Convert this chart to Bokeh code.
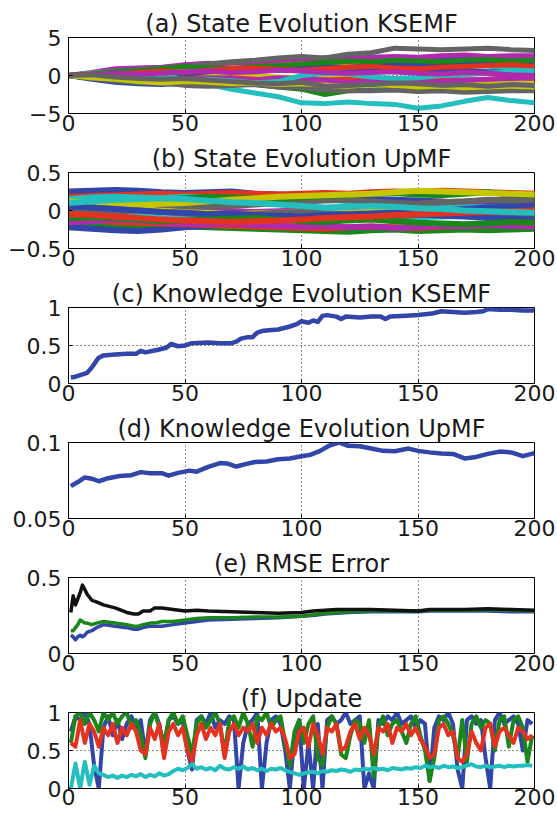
from bokeh.plotting import figure
from bokeh.layouts import column
from bokeh.models import FixedTicker, Range1d
from bokeh.embed import file_html
from bokeh.resources import INLINE

# ---------------- data ----------------
x_ticks = [0, 50, 100, 150, 200]
x_tick_labels = ["0", "50", "100", "150", "200"]

# (a) State Evolution KSEMF  (sampled every 10 steps)
t_state = [0, 10, 20, 30, 40, 50, 60, 70, 80, 90, 100, 110, 120, 130, 140, 150, 160, 170, 180, 190, 200]
kse_blue = [
    [0, 0.2, 0.4, 0.7, 0.8, 1.4, 1.5, 1.4, 1.6, 1.8, 1.9, 2.0, 2.2, 2.1, 2.3, 2.2, 2.4, 2.3, 2.4, 2.5, 2.5],
    [0, -0.5, -0.9, -1.1, -1.2, -1.0, -0.9, -0.7, -0.8, -0.6, -0.5, 0.7, 0.6, 0.8, 0.5, 0.4, 0.6, 0.7, 0.5, 0.6, 0.5],
    [0, 0.1, 0.0, 0.3, 0.4, 0.2, 0.5, 0.7, 0.9, 1.1, 1.0, 1.2, 1.1, 1.3, 1.5, 1.4, 1.3, 1.6, 1.5, 1.4, 1.5],
]
kse_green = [
    [0, -0.4, -0.8, -0.9, -0.6, 0.8, 0.9, 1.2, 1.0, 1.1, 1.5, 2.3, 2.0, 1.8, 1.7, 1.6, 1.5, 1.4, 1.3, 1.5, 1.4],
    [0, -0.3, -0.6, -1.0, -0.8, -0.3, -0.5, -1.0, -1.2, -1.5, -1.8, -2.5, -2.0, -1.9, -1.8, -1.9, -1.6, -1.8, -2.0, -1.7, -1.8],
    [0, 0.2, 0.5, 0.6, 0.9, 1.2, 1.0, 0.9, 1.2, 1.3, 1.5, 1.7, 1.9, 1.8, 2.0, 1.9, 1.8, 2.0, 2.1, 1.9, 2.0],
]
kse_red = [
    [0, 0.3, 0.6, 0.8, 1.0, 1.1, 1.2, 1.4, 1.5, 1.6, 1.7, 1.8, 1.6, 1.5, 1.7, 1.8, 1.6, 1.8, 2.0, 1.9, 1.8],
    [0, -0.2, -0.5, -0.6, -0.5, -0.2, -0.4, -0.3, -0.5, -0.7, -0.9, -0.6, -0.5, -0.8, -0.6, -0.5, -0.4, -0.6, -0.5, -0.3, -0.4],
    [0, 0.2, 0.1, 0.4, 0.6, 0.4, 0.7, 0.9, 1.0, 0.8, 0.7, 0.9, 1.1, 1.2, 1.0, 0.9, 1.1, 1.2, 1.3, 1.4, 1.2],
]
kse_cyan = [
    [0, -0.2, -0.4, -0.5, -0.6, -0.8, -1.2, -1.8, -2.3, -2.8, -3.6, -3.7, -3.5, -3.7, -3.8, -4.3, -4.0, -3.4, -2.9, -3.3, -3.6],
    [0, 0.3, 0.5, 0.4, 0.7, 0.2, 0.6, 0.4, 0.8, 1.0, 1.2, 0.9, 1.1, 1.3, 1.0, 1.2, 1.5, 1.4, 1.2, 1.0, 1.1],
    [0, -0.2, -0.3, 0.0, 0.1, -0.6, -0.5, -0.7, -1.0, -0.8, 0.0, 0.3, 0.2, -0.2, -0.4, -0.3, 0.0, 0.1, 0.3, 0.5, 0.6],
]
kse_magenta = [
    [0, 0.4, 0.9, 1.0, 1.1, 1.4, 1.6, 1.5, 1.8, 2.0, 2.1, 2.3, 2.2, 2.4, 2.5, 2.4, 2.6, 2.7, 2.5, 2.6, 2.6],
    [0, -0.3, -0.4, -0.2, -0.3, -0.5, -0.3, -0.4, -0.6, -0.3, -0.4, -0.6, -0.9, -0.8, -0.7, -0.9, -0.8, -0.6, -0.5, -0.4, -0.3],
    [0, 0.1, 0.3, 0.2, 0.3, 0.5, 0.6, 0.4, 0.5, 0.7, 0.6, 0.4, 0.3, 0.4, 0.5, 0.3, 0.2, 0.4, 0.3, 0.1, 0.0],
]
kse_yellow = [
    [0, 0.2, 0.3, 0.5, 0.4, 0.1, 0.0, -0.1, 0.0, -0.2, -0.3, -0.2, -0.3, -0.5, -0.4, -0.6, -0.9, -1.0, -1.1, -1.0, -1.1],
    [0, -0.1, 0.2, 0.3, 0.5, 0.6, 0.8, 1.0, 1.1, 1.3, 1.5, 1.4, 1.2, 1.4, 1.3, 1.6, 1.5, 1.4, 1.6, 1.7, 1.6],
    [0, -0.3, -0.5, -0.8, -1.0, -0.8, -0.9, -1.1, -1.0, -1.2, -1.1, -1.3, -1.4, -1.2, -1.3, -1.5, -1.4, -1.6, -1.5, -1.4, -1.5],
]
kse_gray = [
    [0, 0.3, 0.6, 0.8, 1.0, 1.2, 1.5, 1.8, 2.0, 2.3, 2.5, 2.3, 2.8, 3.0, 3.6, 3.5, 3.4, 3.5, 3.6, 3.4, 3.3],
    [0, -0.4, -0.7, -0.9, -1.0, -1.3, -1.4, -1.3, -1.2, -1.5, -1.6, -1.9, -2.0, -2.0, -1.9, -2.1, -2.0, -2.2, -2.1, -2.0, -2.0],
    [0, 0.1, -0.2, -0.4, -0.5, -0.4, -0.6, -0.8, -1.0, -1.1, -0.9, -1.4, -1.3, -1.2, -1.0, -1.1, -1.3, -1.2, -1.4, -1.2, -1.3],
]

# (b) State Evolution UpMF (sampled every 10 steps)
up_blue = [
    [0.25, 0.26, 0.27, 0.26, 0.24, 0.23, 0.24, 0.25, 0.22, 0.21, 0.20, 0.18, 0.17, 0.15, 0.14, 0.13, 0.12, 0.10, 0.09, 0.08, 0.07],
    [-0.22, -0.24, -0.26, -0.27, -0.25, -0.22, -0.20, -0.18, -0.15, -0.13, -0.10, -0.08, -0.06, -0.05, -0.04, -0.02, 0.0, 0.02, 0.04, 0.05, 0.06],
    [0.05, 0.04, 0.02, 0.0, -0.02, -0.03, -0.05, -0.04, -0.06, -0.07, -0.08, -0.06, -0.05, -0.04, -0.03, -0.05, -0.07, -0.08, -0.10, -0.11, -0.12],
]
up_green = [
    [-0.18, -0.19, -0.20, -0.19, -0.20, -0.21, -0.22, -0.23, -0.24, -0.25, -0.26, -0.27, -0.28, -0.26, -0.25, -0.27, -0.26, -0.25, -0.26, -0.25, -0.24],
    [0.08, 0.09, 0.10, 0.12, 0.14, 0.16, 0.18, 0.17, 0.16, 0.15, 0.17, 0.19, 0.20, 0.22, 0.23, 0.21, 0.20, 0.22, 0.24, 0.21, 0.20],
    [-0.10, -0.09, -0.10, -0.12, -0.14, -0.13, -0.12, -0.11, -0.10, -0.12, -0.14, -0.15, -0.13, -0.12, -0.14, -0.16, -0.17, -0.18, -0.17, -0.15, -0.16],
]
up_red = [
    [0.18, 0.19, 0.20, 0.21, 0.22, 0.21, 0.22, 0.23, 0.22, 0.21, 0.22, 0.23, 0.22, 0.24, 0.25, 0.24, 0.26, 0.25, 0.24, 0.23, 0.22],
    [-0.12, -0.13, -0.15, -0.16, -0.17, -0.18, -0.19, -0.20, -0.21, -0.22, -0.23, -0.24, -0.22, -0.21, -0.22, -0.23, -0.21, -0.20, -0.19, -0.18, -0.17],
    [-0.05, -0.06, -0.08, -0.10, -0.12, -0.13, -0.14, -0.15, -0.14, -0.13, -0.12, -0.10, -0.09, -0.08, -0.06, -0.05, -0.04, -0.03, -0.02, -0.01, 0.0],
]
up_cyan = [
    [0.15, 0.17, 0.18, 0.17, 0.16, 0.18, 0.17, 0.15, 0.13, 0.12, 0.14, 0.15, 0.12, 0.10, 0.08, 0.07, 0.06, 0.05, 0.04, 0.05, 0.06],
    [-0.02, -0.04, -0.06, -0.08, -0.10, -0.11, -0.10, -0.08, -0.07, -0.05, -0.04, -0.03, -0.05, -0.08, -0.10, -0.09, -0.08, -0.07, -0.08, -0.09, -0.08],
    [0.10, 0.12, 0.14, 0.15, 0.16, 0.15, 0.13, 0.11, 0.10, 0.08, 0.06, 0.04, 0.05, 0.06, 0.05, 0.03, 0.02, 0.0, -0.01, -0.02, -0.03],
]
up_magenta = [
    [0.03, 0.02, 0.04, 0.05, 0.03, 0.02, 0.01, -0.01, -0.02, -0.01, 0.0, 0.02, 0.04, 0.06, 0.08, 0.09, 0.11, 0.12, 0.13, 0.15, 0.16],
    [-0.15, -0.14, -0.12, -0.13, -0.15, -0.17, -0.18, -0.17, -0.19, -0.20, -0.21, -0.20, -0.22, -0.21, -0.23, -0.22, -0.20, -0.21, -0.19, -0.20, -0.21],
]
up_yellow = [
    [0.0, -0.01, 0.01, 0.02, 0.0, -0.02, -0.03, -0.05, -0.04, -0.03, -0.02, -0.04, -0.03, -0.02, 0.0, 0.01, 0.0, -0.01, 0.0, 0.01, 0.0],
    [0.12, 0.11, 0.10, 0.08, 0.09, 0.10, 0.12, 0.14, 0.16, 0.18, 0.19, 0.20, 0.21, 0.22, 0.24, 0.26, 0.25, 0.24, 0.23, 0.22, 0.21],
]
up_gray = [
    [0.08, 0.07, 0.09, 0.10, 0.08, 0.06, 0.05, 0.06, 0.08, 0.10, 0.12, 0.13, 0.14, 0.12, 0.10, 0.09, 0.11, 0.12, 0.14, 0.13, 0.12],
    [-0.03, -0.02, -0.01, 0.0, -0.02, -0.04, -0.05, -0.06, -0.05, -0.03, -0.02, -0.04, -0.06, -0.07, -0.08, -0.06, -0.05, -0.06, -0.07, -0.08, -0.09],
]

# (c) Knowledge Evolution KSEMF
t_know_kse = [1, 3, 5, 7, 8, 10, 12, 13, 15, 20, 25, 29, 31, 33, 38, 42, 44, 45, 47, 50, 53, 60, 65, 70, 72, 74, 77, 79, 81, 83,
              86, 90, 95, 98, 100, 103, 105, 107, 109, 111, 115, 117, 119, 125, 130, 134, 136, 138, 145, 150, 153, 156, 160,
              165, 170, 175, 178, 180, 185, 190, 195, 200]
know_kse = [0.08, 0.09, 0.11, 0.13, 0.14, 0.21, 0.30, 0.34, 0.37, 0.38, 0.39, 0.39, 0.43, 0.41, 0.44, 0.47, 0.52, 0.51, 0.49, 0.50,
            0.53, 0.54, 0.53, 0.53, 0.55, 0.59, 0.61, 0.61, 0.67, 0.69, 0.70, 0.71, 0.75, 0.78, 0.82, 0.80, 0.83, 0.81, 0.89, 0.90,
            0.88, 0.85, 0.88, 0.87, 0.88, 0.88, 0.85, 0.88, 0.89, 0.90, 0.91, 0.92, 0.95, 0.94, 0.93, 0.94, 0.95, 0.98, 0.97, 0.97,
            0.96, 0.96]

# (d) Knowledge Evolution UpMF
t_know_up = [1, 4, 7, 10, 13, 17, 22, 27, 31, 35, 40, 43, 47, 52, 55, 60, 65, 68, 72, 76, 80, 85, 90, 95, 100, 104, 108, 112,
             116, 120, 125, 130, 135, 140, 146, 150, 155, 160, 165, 170, 175, 180, 185, 190, 195, 200]
know_up = [0.0713, 0.0740, 0.0770, 0.0762, 0.0745, 0.0765, 0.0780, 0.0785, 0.0805, 0.0797, 0.0798, 0.0782, 0.0800, 0.0815,
           0.0808, 0.0840, 0.0865, 0.0862, 0.0842, 0.0858, 0.0872, 0.0875, 0.0890, 0.0895, 0.0910, 0.0920, 0.0945, 0.0980,
           0.1000, 0.0978, 0.0975, 0.0960, 0.0945, 0.0942, 0.0960, 0.0945, 0.0935, 0.0928, 0.0925, 0.0895, 0.0905, 0.0925,
           0.0940, 0.0935, 0.0910, 0.0930]

# (e) RMSE Error
t_rmse = [1, 2, 3, 4, 5, 6, 7, 8, 10, 12, 15, 20, 25, 28, 30, 32, 35, 37, 40, 45, 50, 55, 60, 70, 80, 90, 100, 105, 110, 115,
          120, 130, 140, 150, 155, 160, 170, 180, 190, 200]
rmse_black = [0.27, 0.38, 0.32, 0.36, 0.40, 0.45, 0.42, 0.39, 0.35, 0.34, 0.32, 0.30, 0.27, 0.26, 0.26, 0.28, 0.28, 0.30, 0.30,
              0.29, 0.28, 0.285, 0.28, 0.275, 0.27, 0.265, 0.27, 0.28, 0.285, 0.29, 0.29, 0.29, 0.285, 0.28, 0.29, 0.29, 0.29,
              0.295, 0.29, 0.285]
rmse_green = [0.15, 0.15, 0.17, 0.19, 0.22, 0.21, 0.20, 0.20, 0.19, 0.20, 0.21, 0.20, 0.19, 0.18, 0.18, 0.19, 0.20, 0.20, 0.21,
              0.21, 0.22, 0.23, 0.235, 0.235, 0.24, 0.24, 0.245, 0.255, 0.265, 0.27, 0.275, 0.28, 0.28, 0.28, 0.285, 0.285,
              0.285, 0.29, 0.285, 0.28]
rmse_blue = [0.12, 0.11, 0.09, 0.11, 0.12, 0.11, 0.12, 0.14, 0.15, 0.17, 0.19, 0.18, 0.17, 0.16, 0.16, 0.17, 0.18, 0.18, 0.18,
             0.19, 0.20, 0.21, 0.22, 0.225, 0.23, 0.235, 0.245, 0.25, 0.26, 0.265, 0.27, 0.275, 0.275, 0.275, 0.28, 0.28, 0.28,
             0.28, 0.275, 0.275]

# (f) Update (every 2 steps, t = 1, 3, ..., 199)
t_update = list(range(1, 200, 2))
update_blue = [0.75, 0.95, 0.9, 1.0, 0.85, 0.3, 0.0, 0.8, 0.95, 0.7,
               0.9, 0.65, 0.85, 0.95, 0.8, 0.9, 0.45, 0.9, 1.0, 0.85,
               0.45, 0.9, 0.95, 0.85, 0.9, 0.5, 0.25, 0.9, 0.95, 0.85,
               1.0, 0.8, 0.9, 0.85, 0.95, 0.9, 0.0, 0.6, 0.85, 0.9,
               1.0, 0.0, 0.6, 0.9, 0.95, 0.85, 0.5, 0.0, 0.7, 0.9,
               0.0, 0.6, 0.0, 0.85, 0.0, 0.9, 0.95, 0.85, 0.9, 1.0,
               0.85, 0.9, 0.95, 0.0, 0.2, 0.0, 0.9, 0.85, 0.95, 0.9,
               1.0, 0.85, 0.9, 0.95, 0.8, 0.9, 0.85, 0.1, 0.8, 0.95,
               0.9, 1.0, 0.85, 0.25, 0.0, 0.9, 0.95, 0.85, 0.9, 0.4,
               0.0, 0.9, 1.0, 0.85, 0.9, 0.95, 0.85, 0.5, 0.9, 0.85]
update_green = [0.6, 0.95, 1.0, 0.85, 1.0, 0.9, 0.75, 1.0, 0.9, 1.0,
                0.85, 0.95, 1.0, 0.8, 0.9, 0.7, 0.4, 0.85, 1.0, 0.8,
                0.6, 0.9, 1.0, 0.85, 0.95, 0.7, 0.45, 0.85, 0.95, 0.8,
                0.9, 1.0, 0.85, 0.45, 0.9, 0.95, 0.8, 1.0, 0.85, 0.55,
                0.95, 0.9, 1.0, 0.8, 0.9, 0.95, 0.6, 0.3, 0.75, 0.9,
                0.6, 0.85, 0.95, 0.4, 0.3, 0.8, 0.95, 0.85, 0.45, 0.4,
                0.7, 0.9, 0.85, 0.6, 0.9, 0.15, 0.8, 0.95, 0.7, 0.85,
                0.9, 0.75, 0.6, 0.85, 0.95, 0.7, 0.5, 0.1, 0.4, 0.9,
                0.95, 0.85, 0.7, 0.4, 0.9, 0.35, 0.85, 0.95, 0.8, 0.9,
                0.85, 0.5, 0.9, 0.95, 0.55, 0.9, 0.95, 0.8, 0.35, 0.7]
update_red = [0.6, 0.55, 0.9, 0.6, 0.85, 0.75, 0.55, 0.8, 0.7, 0.85,
              0.6, 0.8, 0.7, 0.85, 0.75, 0.5, 0.45, 0.8, 0.65, 0.85,
              0.4, 0.75, 0.85, 0.7, 0.8, 0.5, 0.35, 0.7, 0.85, 0.65,
              0.8, 0.7, 0.85, 0.4, 0.75, 0.85, 0.7, 0.8, 0.75, 0.85,
              0.6, 0.8, 0.7, 0.85, 0.75, 0.8, 0.65, 0.4, 0.45, 0.75,
              0.8, 0.55, 0.85, 0.7, 0.45, 0.8, 0.75, 0.85, 0.5, 0.55,
              0.75, 0.85, 0.65, 0.8, 0.7, 0.45, 0.8, 0.75, 0.85, 0.6,
              0.8, 0.75, 0.85, 0.7, 0.8, 0.65, 0.55, 0.4, 0.45, 0.8,
              0.85, 0.7, 0.75, 0.4, 0.35, 0.45, 0.75, 0.6, 0.5, 0.8,
              0.85, 0.55, 0.75, 0.8, 0.7, 0.6, 0.8, 0.75, 0.65, 0.7]
update_cyan = [0.0, 0.33, 0.0, 0.35, 0.05, 0.3, 0.2, 0.18, 0.15, 0.17,
               0.14, 0.17, 0.15, 0.18, 0.16, 0.19, 0.15, 0.18, 0.16, 0.2,
               0.17, 0.19, 0.23, 0.26, 0.24, 0.27, 0.32, 0.26, 0.28, 0.25,
               0.27, 0.24, 0.3, 0.26, 0.25, 0.28, 0.26, 0.29, 0.25, 0.27,
               0.24, 0.26, 0.23, 0.26, 0.25, 0.27, 0.24, 0.22, 0.2, 0.18,
               0.2, 0.21, 0.22, 0.2, 0.23, 0.22, 0.24, 0.23, 0.25, 0.24,
               0.22, 0.25, 0.24, 0.26, 0.25, 0.27, 0.25, 0.26, 0.24, 0.27,
               0.26, 0.25, 0.27, 0.26, 0.28, 0.27, 0.3, 0.28, 0.29, 0.27,
               0.3, 0.28, 0.29, 0.27, 0.28, 0.3, 0.32, 0.29, 0.28, 0.3,
               0.28, 0.29, 0.3, 0.28, 0.3, 0.29, 0.3, 0.3, 0.31, 0.3]

# ---------------- style ----------------
BLUE = "#3245a8"
GREEN = "#1b871b"
RED = "#e3321f"
CYAN = "#23bfbf"
MAGENTA = "#b02aae"
YELLOW = "#c6c600"
GRAY = "#646464"
BLACK = "#111111"
FONT = "DejaVu Sans"


def panel(title, ylo, yhi, yticks, ylabels, height, top, bottom, xstandoff):
    p = figure(width=557, height=height, x_range=Range1d(0, 200), y_range=Range1d(ylo, yhi),
               output_backend="svg", toolbar_location=None, tools="",
               min_border_left=68, min_border_right=23, min_border_top=top, min_border_bottom=bottom)
    p.title.text = title
    p.title.align = "center"
    p.title.text_font = FONT
    p.title.text_font_size = "24px"
    p.title.text_font_style = "normal"
    p.title.text_color = "#1a1a1a"
    p.title.standoff = 0
    p.outline_line_color = "black"
    p.outline_line_width = 1
    p.outline_line_alpha = 1
    for ax, ticks, labels in ((p.xaxis, x_ticks, x_tick_labels), (p.yaxis, yticks, ylabels)):
        ax.ticker = FixedTicker(ticks=ticks)
        ax.major_label_overrides = {t: l for t, l in zip(ticks, labels)}
        ax.major_label_text_font = FONT
        ax.major_label_text_font_size = "22px"
        ax.major_label_text_color = "#1a1a1a"
        ax.major_tick_in = 4
        ax.major_tick_out = 0
        ax.minor_tick_in = 0
        ax.minor_tick_out = 0
        ax.axis_line_color = "black"
        ax.major_tick_line_color = "black"
    p.xaxis.major_label_standoff = xstandoff
    p.yaxis.major_label_standoff = 7
    for g in (p.xgrid, p.ygrid):
        g.grid_line_color = "#222222"
        g.grid_line_dash = "1 3"
        g.grid_line_width = 1
    return p


p_a = panel("(a) State Evolution KSEMF", -5, 5, [-5, 0, 5], ["\u22125", "0", "5"], 142, 37, 29, 1)
groups_a = [(kse_blue, BLUE), (kse_green, GREEN), (kse_red, RED), (kse_cyan, CYAN),
            (kse_magenta, MAGENTA), (kse_yellow, YELLOW), (kse_gray, GRAY)]
for k in range(3):
    for series, color in groups_a:
        if k < len(series):
            p_a.line(t_state, series[k], line_color=color, line_width=5, line_join="round", line_cap="round")

p_b = panel("(b) State Evolution UpMF", -0.5, 0.5, [-0.5, 0, 0.5], ["\u22120.5", "0", "0.5"], 135, 30, 29, 1)
groups_b = [(up_blue, BLUE), (up_green, GREEN), (up_red, RED), (up_cyan, CYAN),
            (up_magenta, MAGENTA), (up_yellow, YELLOW), (up_gray, GRAY)]
for k in range(3):
    for series, color in groups_b:
        if k < len(series):
            p_b.line(t_state, series[k], line_color=color, line_width=6, line_join="round", line_cap="round")

p_c = panel("(c) Knowledge Evolution KSEMF", 0, 1, [0, 0.5, 1], ["0", "0.5", "1"], 135, 30, 29, 1)
p_c.line(t_know_kse, know_kse, line_color=BLUE, line_width=4.5, line_join="round")

p_d = panel("(d) Knowledge Evolution UpMF", 0.05, 0.1, [0.05, 0.1], ["0.05", "0.1"], 135, 30, 29, 1)
p_d.line(t_know_up, know_up, line_color=BLUE, line_width=4.5, line_join="round")

p_e = panel("(e) RMSE Error", 0, 0.5, [0, 0.5], ["0", "0.5"], 135, 30, 29, 1)
p_e.line(t_rmse, rmse_blue, line_color=BLUE, line_width=3.5, line_join="round")
p_e.line(t_rmse, rmse_green, line_color=GREEN, line_width=3.5, line_join="round")
p_e.line(t_rmse, rmse_black, line_color=BLACK, line_width=3.5, line_join="round")

p_f = panel("(f) Update", 0, 1, [0, 0.5, 1], ["0", "0.5", "1"], 134, 30, 28, 0)
p_f.line(t_update, update_blue, line_color=BLUE, line_width=4, line_join="round")
p_f.line(t_update, update_green, line_color=GREEN, line_width=4, line_join="round")
p_f.line(t_update, update_red, line_color=RED, line_width=4, line_join="round")
p_f.line(t_update, update_cyan, line_color=CYAN, line_width=4, line_join="round")

layout = column(p_a, p_b, p_c, p_d, p_e, p_f, spacing=0)
open("out.html", "w").write(file_html(layout, INLINE))
